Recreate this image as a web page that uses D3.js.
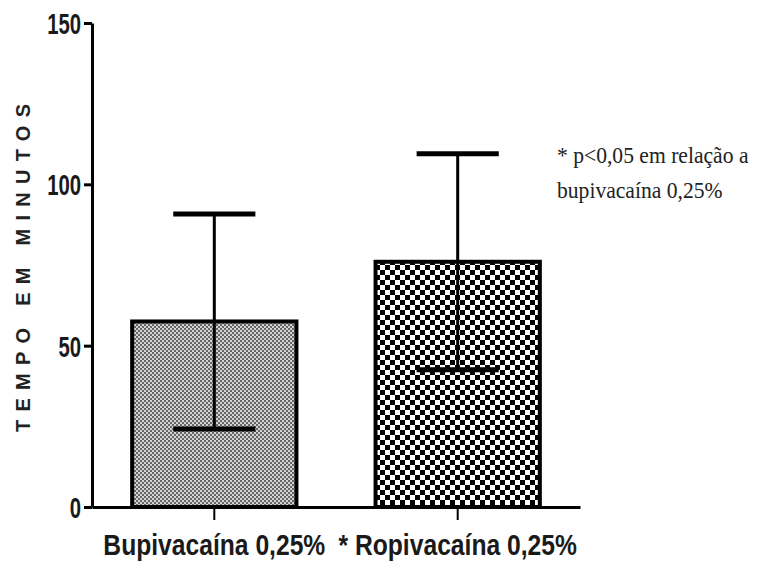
<!DOCTYPE html>
<html>
<head>
<meta charset="utf-8">
<script src="https://cdn.jsdelivr.net/npm/d3@7"></script>
<style>
  body { margin: 0; background: #fff; }
  svg { display: block; }
</style>
</head>
<body>
<div id="chart"></div>
<script>
// data
var categories = ["Bupivacaína 0,25%", "* Ropivacaína 0,25%"];
var means = [57.5, 76];
var sds = [33.3, 33.5];
var yTicks = [0, 50, 100, 150];
var yTitle = "TEMPO EM MINUTOS";
var noteLines = ["* p<0,05 em relação a", "bupivacaína 0,25%"];

var rows = categories.map(function(c, i) {
  return {cat: c, mean: means[i], sd: sds[i], fill: i == 0 ? "url(#dots)" : "url(#checks)"};
});

var svg = d3.select("#chart")
            .append("svg")
            .attr("width", 777)
            .attr("height", 562);

// fill patterns
var defs = svg.append("defs");

var dots = defs.append("pattern")
    .attr("id", "dots")
    .attr("patternUnits", "userSpaceOnUse")
    .attr("width", 4).attr("height", 4);
dots.append("rect").attr("width", 4).attr("height", 4).attr("fill", "#d2d2d2");
dots.append("rect").attr("width", 2).attr("height", 2).attr("fill", "#666");
dots.append("rect").attr("x", 2).attr("y", 2).attr("width", 2).attr("height", 2).attr("fill", "#666");

var checks = defs.append("pattern")
    .attr("id", "checks")
    .attr("patternUnits", "userSpaceOnUse")
    .attr("width", 10).attr("height", 10);
checks.append("rect").attr("width", 10).attr("height", 10).attr("fill", "#fff");
checks.append("rect").attr("x", 0).attr("y", 0).attr("width", 5).attr("height", 5).attr("fill", "#000");
checks.append("rect").attr("x", 5).attr("y", 5).attr("width", 5).attr("height", 5).attr("fill", "#000");

// scales
var y = d3.scaleLinear()
          .domain([0, 150])
          .range([507, 23]);

var x = d3.scaleBand()
          .domain(categories)
          .range([92, 580])
          .paddingInner(0.325)
          .paddingOuter(0.165);

// bars
svg.append("g")
  .selectAll("rect")
  .data(rows)
  .enter()
  .append("rect")
    .attr("x", function(d) { return x(d.cat); })
    .attr("y", function(d) { return y(d.mean); })
    .attr("width", x.bandwidth())
    .attr("height", function(d) { return y(0) - y(d.mean); })
    .attr("fill", function(d) { return d.fill; })
    .attr("stroke", "#000")
    .attr("stroke-width", 4);

// error bars (mean +/- sd)
var err = svg.append("g")
  .selectAll("g")
  .data(rows)
  .enter()
  .append("g");

var capW = x.bandwidth() * 0.5;

err.append("line")
    .attr("x1", function(d) { return x(d.cat) + x.bandwidth() / 2; })
    .attr("x2", function(d) { return x(d.cat) + x.bandwidth() / 2; })
    .attr("y1", function(d) { return y(d.mean - d.sd); })
    .attr("y2", function(d) { return y(d.mean + d.sd); })
    .attr("stroke", "#000")
    .attr("stroke-width", 3);

[-1, 1].forEach(function(s) {
  err.append("line")
      .attr("x1", function(d) { return x(d.cat) + x.bandwidth() / 2 - capW / 2; })
      .attr("x2", function(d) { return x(d.cat) + x.bandwidth() / 2 + capW / 2; })
      .attr("y1", function(d) { return y(d.mean + s * d.sd); })
      .attr("y2", function(d) { return y(d.mean + s * d.sd); })
      .attr("stroke", "#000")
      .attr("stroke-width", 5);
});

// x axis
var xAxis = svg.append("g")
   .attr("transform", "translate(0," + y(0) + ")")
   .call(d3.axisBottom(x).tickSize(13).tickSizeOuter(0));

xAxis.select(".domain").attr("stroke-width", 3);
xAxis.selectAll(".tick line").attr("stroke-width", 2);
xAxis.selectAll(".tick text")
   .attr("y", 27)
   .attr("dy", "0.71em")
   .attr("transform", "scale(0.85,1)")
   .style("font-family", "'Liberation Sans', Arial, sans-serif")
   .style("font-weight", "bold")
   .style("font-size", "29px")
   .attr("fill", "#1a1a1a");

// y axis
var yAxis = svg.append("g")
   .attr("transform", "translate(" + 92 + ",0)")
   .call(d3.axisLeft(y).tickValues(yTicks).tickSize(8).tickSizeOuter(0));

yAxis.select(".domain").attr("stroke-width", 3);
yAxis.selectAll(".tick line").attr("stroke-width", 3);
yAxis.selectAll(".tick text")
   .attr("x", -11 / 0.7)
   .attr("dy", "0.36em")
   .attr("transform", "scale(0.7,1)")
   .style("font-family", "'Liberation Sans', Arial, sans-serif")
   .style("font-weight", "bold")
   .style("font-size", "29px")
   .attr("fill", "#1a1a1a");

// y axis title
svg.append("text")
   .attr("transform", "translate(" + 30 + "," + 268 + ") rotate(-90)")
   .style("text-anchor", "middle")
   .style("font-family", "'Liberation Sans', Arial, sans-serif")
   .style("font-weight", "bold")
   .style("font-size", "20px")
   .attr("textLength", 328)
   .attr("lengthAdjust", "spacing")
   .attr("fill", "#222")
   .text(yTitle);

// note on the right
svg.append("g")
  .selectAll("text")
  .data(noteLines)
  .enter()
  .append("text")
    .attr("transform", function(d, i) { return "translate(557," + (163 + i * 35) + ") scale(0.9,1)"; })
    .style("font-family", "'Liberation Serif', 'Times New Roman', serif")
    .style("font-size", "24px")
    .attr("fill", "#222")
    .text(function(d) { return d; });
</script>
</body>
</html>
